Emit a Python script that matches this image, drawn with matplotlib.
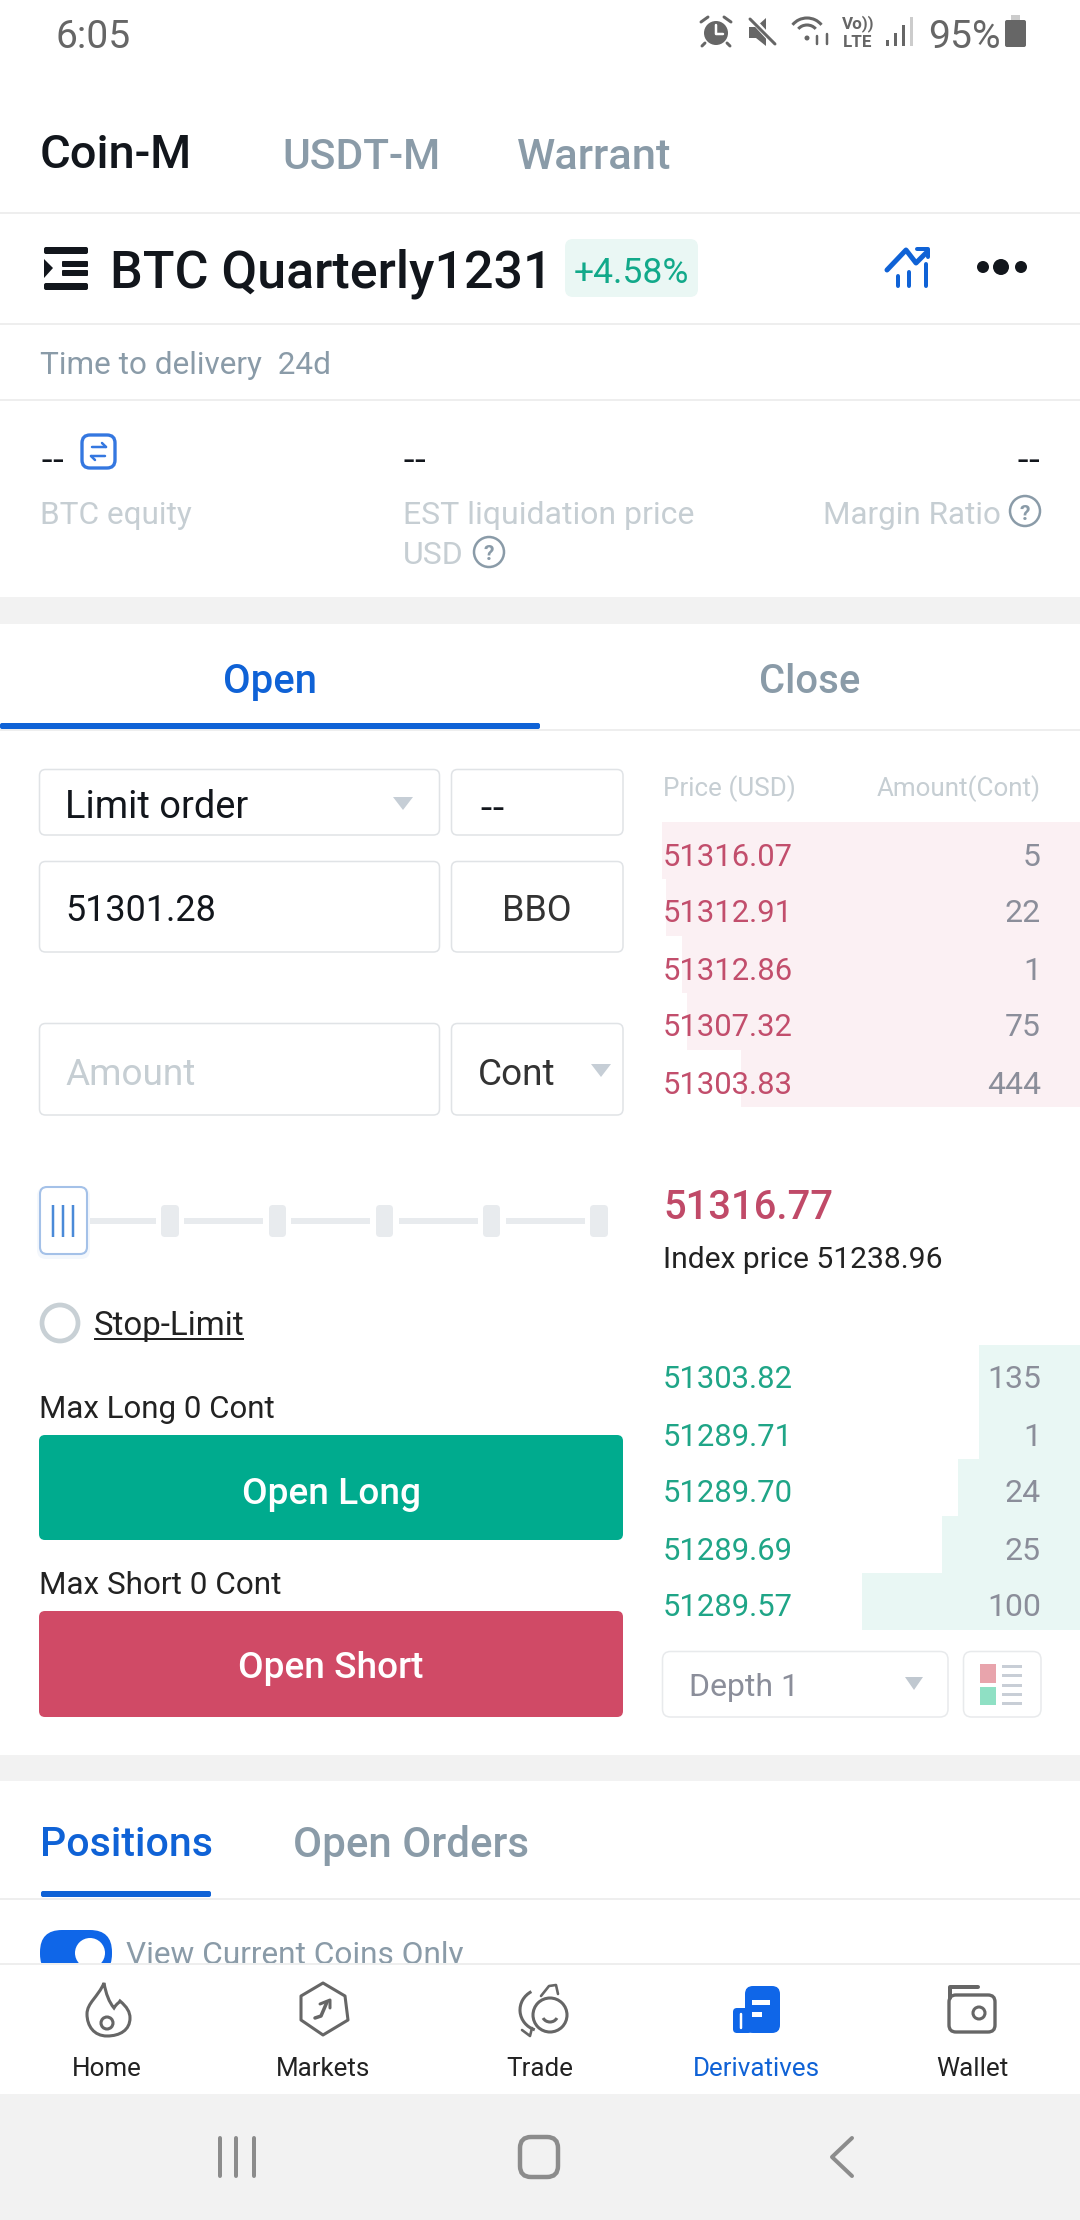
import matplotlib
matplotlib.use("Agg")
import matplotlib.pyplot as plt
from matplotlib.patches import FancyBboxPatch, Rectangle, Circle, Polygon, PathPatch, Arc
from matplotlib.path import Path

plt.rcParams['font.family'] = ['Roboto', 'DejaVu Sans']

W, H = 1080, 2220

# order book
ask_prices = ["51316.07", "51312.91", "51312.86", "51307.32", "51303.83"]
ask_amounts = [5, 22, 1, 75, 444]
ask_depth = [100, 99, 95.2, 94, 81.1]
bid_prices = ["51303.82", "51289.71", "51289.70", "51289.69", "51289.57"]
bid_amounts = [135, 1, 24, 25, 100]
bid_depth = [24.2, 24.2, 29.2, 33, 52.2]

nav_labels = ["Home", "Markets", "Trade", "Derivatives", "Wallet"]
top_tabs = ["Coin-M", "USDT-M", "Warrant"]

BLUE = "#0f62d6"
GREY = "#8a9ba8"
PALE = "#c6ced3"
LINE = "#eeeeee"
BAND = "#f2f2f2"
DARK = "#12161c"
RED = "#c24e6c"
GREEN = "#1fa587"
AMT = "#8b8e9a"
ICON = "#666666"
EDGE = "#e0e3e6"

fig = plt.figure(figsize=(W / 100, H / 100), dpi=100, facecolor="white")
ax = fig.add_axes([0, 0, 1, 1], zorder=2)
ax.set_xlim(0, W)
ax.set_ylim(H, 0)
ax.axis("off")


def txt(x, y, s, px, color=DARK, ha="left", weight="normal", z=5, **kw):
    return ax.text(x, y, s, fontsize=px * 0.72, color=color, ha=ha, va="center_baseline",
                   fontweight=weight, zorder=z, **kw)


def box(x0, y0, x1, y1, fc="none", ec="none", lw=1.1, r=6, z=3):
    p = FancyBboxPatch((x0 + r, y0 + r), x1 - x0 - 2 * r, y1 - y0 - 2 * r,
                       boxstyle="round,pad=%g,rounding_size=%g" % (r, r),
                       fc=fc, ec=ec, lw=lw, zorder=z)
    ax.add_patch(p)
    return p


def band(y0, y1, color=BAND, x0=0, x1=W, z=1):
    ax.add_patch(Rectangle((x0, y0), x1 - x0, y1 - y0, fc=color, ec="none", zorder=z))


def seg(xs, ys, color=ICON, lw=3, z=6, cap="round"):
    ax.plot(xs, ys, color=color, lw=lw * 0.72, solid_capstyle=cap, zorder=z)


def depth_axes(y0, y1, values, color):
    # bars grow from the right edge of the screen
    a = fig.add_axes([662 / W, 1 - y1 / H, (W - 662) / W, (y1 - y0) / H], zorder=1)
    a.barh(range(len(values)), values, height=1.0, color=color)
    a.set_xlim(100, 0)
    a.set_ylim(len(values) - 0.5, -0.5)
    a.axis("off")
    return a


depth_axes(822, 1107, ask_depth, "#fbf0f3")
depth_axes(1345, 1630, bid_depth, "#e9f7f4")

# status bar
txt(55, 34, "6:05", 39, color="#666666")
txt(928, 34, "95%", 39, color="#666666")
ax.add_patch(Circle((716, 33), 12, fc=ICON, ec="none", zorder=5))
seg([716, 716, 723], [25, 34, 34], color="white", lw=2.5)
seg([701, 708], [22, 17], lw=3)
seg([724, 731], [17, 22], lw=3)
seg([705, 702], [43, 46], lw=3)
seg([727, 730], [43, 46], lw=3)
ax.add_patch(Polygon([[749, 27], [756, 27], [766, 18], [766, 46], [756, 38], [749, 38]], fc=ICON, ec="none", zorder=5))
seg([750, 775], [17, 44], color="white", lw=6, z=6)
seg([750, 775], [19, 44], lw=3, z=7)
ax.add_patch(Arc((807, 35), 36, 34, theta1=215, theta2=325, ec=ICON, lw=2.2, zorder=5))
ax.add_patch(Arc((807, 35), 22, 20, theta1=215, theta2=325, ec=ICON, lw=2.2, zorder=5))
ax.add_patch(Circle((807, 38), 2.5, fc=ICON, ec="none", zorder=5))
seg([817, 817], [36, 44], lw=2.5)
seg([827, 827], [34, 44], lw=2.5)
txt(842, 22, "Vo))", 17, color=ICON, weight="bold")
txt(843, 41, "LTE", 17, color=ICON, weight="bold")
for bx, by, col in zip([887, 895, 903, 911], [40, 33, 25, 17], [ICON, ICON, ICON, "#cccccc"]):
    ax.add_patch(Rectangle((bx - 1.5, by), 3.5, 46 - by, fc=col, ec="none", zorder=5))
box(1005, 20, 1026, 47, fc=ICON, r=2, z=5)
ax.add_patch(Rectangle((1011, 15), 9, 5, fc="#cccccc", ec="none", zorder=5))

# top tabs
txt(40, 151, top_tabs[0], 47, weight="medium")
txt(282, 153, top_tabs[1], 42.5, color=GREY, weight="medium")
txt(517, 153, top_tabs[2], 43.5, color=GREY, weight="medium")
band(212, 214, LINE)

# contract header
box(44, 247, 88, 254, fc=DARK, r=2)
box(44, 283, 88, 290, fc=DARK, r=2)
box(62, 261, 88, 267, fc=DARK, r=1)
box(62, 270, 88, 276, fc=DARK, r=1)
ax.add_patch(Polygon([[44, 259], [53, 268], [44, 278]], fc=DARK, ec="none", zorder=5))
txt(110, 268, "BTC Quarterly1231", 52, weight="medium")
box(565, 239, 698, 297, fc="#eaf7f4", r=8)
txt(631, 270, "+4.58%", 35.5, color="#12a98a", ha="center")
seg([887, 906, 916, 926], [270, 250, 263, 253], color=BLUE, lw=5)
seg([917, 928, 928], [249, 249, 257], color=BLUE, lw=4)
seg([898, 898], [276, 286], color=BLUE, lw=4)
seg([909, 909], [272, 286], color=BLUE, lw=4)
seg([926, 926], [264, 286], color=BLUE, lw=4)
for dx, dr in zip([983, 1001, 1021], [6, 8, 6]):
    ax.add_patch(Circle((dx, 267), dr, fc=DARK, ec="none", zorder=5))
band(323, 325, LINE)

txt(40, 363, "Time to delivery  24d", 31.5, color=GREY)
band(399, 401, LINE)

# account summary
txt(40, 456, "--", 38, family="Open Sans")
txt(403, 456, "--", 38, family="Open Sans")
txt(1041, 456, "--", 38, ha="right", family="Open Sans")
box(82, 435, 115, 468, ec="#3477e0", lw=2.4, r=8)
seg([92, 106], [447, 447], color="#3477e0", lw=2.5)
seg([106, 102], [447, 443], color="#3477e0", lw=2.5)
seg([91, 105], [456, 456], color="#3477e0", lw=2.5)
seg([91, 95], [456, 460], color="#3477e0", lw=2.5)
txt(40, 513, "BTC equity", 31.5, color=PALE)
txt(403, 513, "EST liquidation price", 32, color=PALE)
txt(403, 552, "USD", 32, color=PALE)
txt(1001, 513, "Margin Ratio", 31.5, color=PALE, ha="right")
for qx, qy in [(1025, 511), (489, 552)]:
    ax.add_patch(Circle((qx, qy), 15, fc="none", ec=GREY, lw=1.8, zorder=5))
    txt(qx, qy + 1, "?", 21, color=GREY, ha="center", weight="bold")
band(597, 624)

# open / close
txt(270, 678, "Open", 40, color=BLUE, ha="center", weight="medium")
txt(810, 678, "Close", 40, color=GREY, ha="center", weight="medium")
band(729, 731, LINE)
box(0, 723, 540, 729, fc=BLUE, r=2)

# order form
box(39.5, 769.5, 439.5, 835, ec=EDGE)
txt(65, 803, "Limit order", 38)
ax.add_patch(Polygon([[393, 797], [413, 797], [403, 810]], fc="#c6ced6", ec="none", zorder=5))
box(451.5, 769.5, 623, 835, ec=EDGE)
txt(479, 804, "--", 40, family="Open Sans")
box(39.5, 861.5, 439.5, 952, ec=EDGE)
txt(65, 907, "51301.28", 36)
box(451.5, 861.5, 623, 952, ec=EDGE)
txt(537, 907, "BBO", 36, ha="center", color="#333333")
box(39.5, 1023.5, 439.5, 1115, ec=EDGE)
txt(65, 1071, "Amount", 37, color="#c6ced3")
box(451.5, 1023.5, 623, 1115, ec=EDGE)
txt(478, 1071, "Cont", 37, color="#333333")
ax.add_patch(Polygon([[591, 1064], [611, 1064], [601, 1077]], fc="#c6ced6", ec="none", zorder=5))

# leverage slider
for x0, x1 in [(88, 156), (184, 263), (291, 370), (399, 478), (506, 585)]:
    band(1218, 1224, "#e8ebee", x0, x1, z=3)
for x0, x1 in [(161, 179), (269, 286), (376, 393), (483, 500), (590, 608)]:
    box(x0, 1205, x1, 1237, fc="#e8ebee", r=4)
box(37, 1187, 90, 1259, fc="#f3f7fc", r=9, z=3)
box(40, 1187, 87, 1254, fc="white", ec="#a4c1e8", lw=1.5, r=7, z=4)
for tx in [53, 63, 73]:
    seg([tx, tx], [1205, 1237], color="#4a8ad8", lw=2.5, cap="butt")

ax.add_patch(Circle((60, 1323), 18, fc="none", ec="#c8d0d5", lw=3.4, zorder=5))
txt(94, 1323, "Stop-Limit", 33, color="#222222")
seg([94, 244], [1339, 1339], color="#222222", lw=2, cap="butt")

txt(39, 1407, "Max Long 0 Cont", 31.3, color="#222222")
box(39, 1435, 623, 1540, fc="#00ab8e", r=6)
txt(331, 1490, "Open Long", 37, color="white", ha="center", weight="medium")
txt(39, 1582, "Max Short 0 Cont", 31.5, color="#222222")
box(39, 1611, 623, 1717, fc="#d04a66", r=6)
txt(331, 1665, "Open Short", 37, color="white", ha="center", weight="medium")

# order book text
txt(663, 786, "Price (USD)", 26, color=PALE)
txt(1041, 786, "Amount(Cont)", 26, color=PALE, ha="right")
for i, (p, a) in enumerate(zip(ask_prices, ask_amounts)):
    txt(663, 854 + i * 57, p, 31, color=RED)
    txt(1041, 854 + i * 57, str(a), 32, color=AMT, ha="right")
txt(663, 1204, "51316.77", 40, color="#c04a68", weight="medium")
txt(663, 1257, "Index price 51238.96", 30, color="#222222")
for i, (p, a) in enumerate(zip(bid_prices, bid_amounts)):
    txt(663, 1377 + i * 57, p, 31, color=GREEN)
    txt(1041, 1377 + i * 57, str(a), 32, color=AMT, ha="right")

box(662.5, 1651.5, 948, 1717, ec="#e8eaec", r=8)
txt(689, 1685, "Depth 1", 32, color=AMT)
ax.add_patch(Polygon([[905, 1677], [923, 1677], [914, 1690]], fc="#c0c8d0", ec="none", zorder=5))
box(963.5, 1651.5, 1041, 1717, ec="#e8eaec", r=8)
ax.add_patch(Rectangle((980, 1664), 16, 19, fc="#e8a4ac", ec="none", zorder=5))
ax.add_patch(Rectangle((980, 1687), 16, 18, fc="#8fe0c4", ec="none", zorder=5))
for ly in [1666, 1675, 1685, 1694, 1703]:
    band(ly - 1.5, ly + 1.5, "#c8ced6", 1002, 1022, z=5)

band(1755, 1781)

# positions
txt(40, 1841, "Positions", 41, color=BLUE, weight="medium")
txt(293, 1841, "Open Orders", 42, color=GREY, weight="medium")
box(41, 1891, 211, 1897, fc=BLUE, r=2)
band(1898, 1900, LINE)
box(40, 1930, 112, 1976, fc="#0f66e8", r=22, z=2)
ax.add_patch(Circle((90, 1953), 15, fc="white", ec="none", zorder=2.5))
ax.text(126, 1952, "View Current Coins Only", fontsize=31.6 * 0.72, color=GREY, va="center_baseline", zorder=2)

# bottom nav, covers the row above
band(1963, 2094, "white", z=3)
band(1963, 1965, LINE, z=4)
band(2094, H, BAND, z=3)
nav_x = [107, 323, 540, 756, 972]
for nx, lab in zip(nav_x, nav_labels):
    txt(nx, 2067, lab, 26, color=BLUE if lab == "Derivatives" else "#222222", ha="center")

flame = Path([(107, 2036), (94, 2036), (87, 2026), (87, 2014), (87, 2003), (98, 1997), (104, 1983),
              (106, 1994), (109, 2002), (114, 2008), (117, 2003), (119, 2003), (120, 2001),
              (127, 2007), (130, 2012), (130, 2018), (130, 2030), (120, 2036), (107, 2036)],
             [Path.MOVETO] + [Path.CURVE4] * 18)
ax.add_patch(PathPatch(flame, fc="none", ec=ICON, lw=2.2, zorder=5))
ax.add_patch(Circle((107, 2023), 6, fc="none", ec=ICON, lw=2.2, zorder=5))

ax.add_patch(Polygon([[323, 1983], [345, 1996], [348, 2020], [323, 2035], [301, 2020], [301, 1996]],
                     closed=True, fc="none", ec=ICON, lw=2.2, joinstyle="round", zorder=5))
seg([315, 321, 327], [2018, 2016, 2002], lw=3.5)
seg([320, 330, 330], [2004, 2000, 2008], lw=3)

ax.add_patch(Circle((550, 2015), 17, fc="none", ec=ICON, lw=2.2, zorder=5))
ax.add_patch(Arc((550, 2014), 16, 16, theta1=30, theta2=150, ec=ICON, lw=2.2, zorder=5))
ax.add_patch(Arc((542, 2010), 44, 42, theta1=110, theta2=240, ec=ICON, lw=2.2, zorder=5))
seg([541, 549, 556, 558], [1996, 1986, 1985, 1994], lw=2.6)
seg([522, 530, 532], [2030, 2036, 2028], lw=2.6)

box(745, 1986, 780, 2033, fc="#0f66e8", r=8)
box(733, 2008, 752, 2033, fc="#0f66e8", r=4)
seg([741, 741], [2014, 2028], color="white", lw=2.5)
band(2000, 2005, "white", 752, 770, z=5)
band(2012, 2017, "white", 752, 762, z=5)

box(949, 1995, 995, 2032, ec=ICON, lw=2.4, r=7)
seg([950, 950, 978], [1998, 1987, 1987], lw=4)
ax.add_patch(Circle((979, 2013), 6, fc="none", ec=ICON, lw=2.2, zorder=5))

# system buttons
for bx in [220, 236, 254]:
    seg([bx, bx], [2138, 2176], color="#8c8c8c", lw=4)
box(520, 2137, 558, 2177, ec="#8c8c8c", lw=3.2, r=11, z=5)
seg([852, 832, 852], [2138, 2157, 2176], color="#8c8c8c", lw=4)

fig.savefig("out.png", dpi=100, facecolor="white")
